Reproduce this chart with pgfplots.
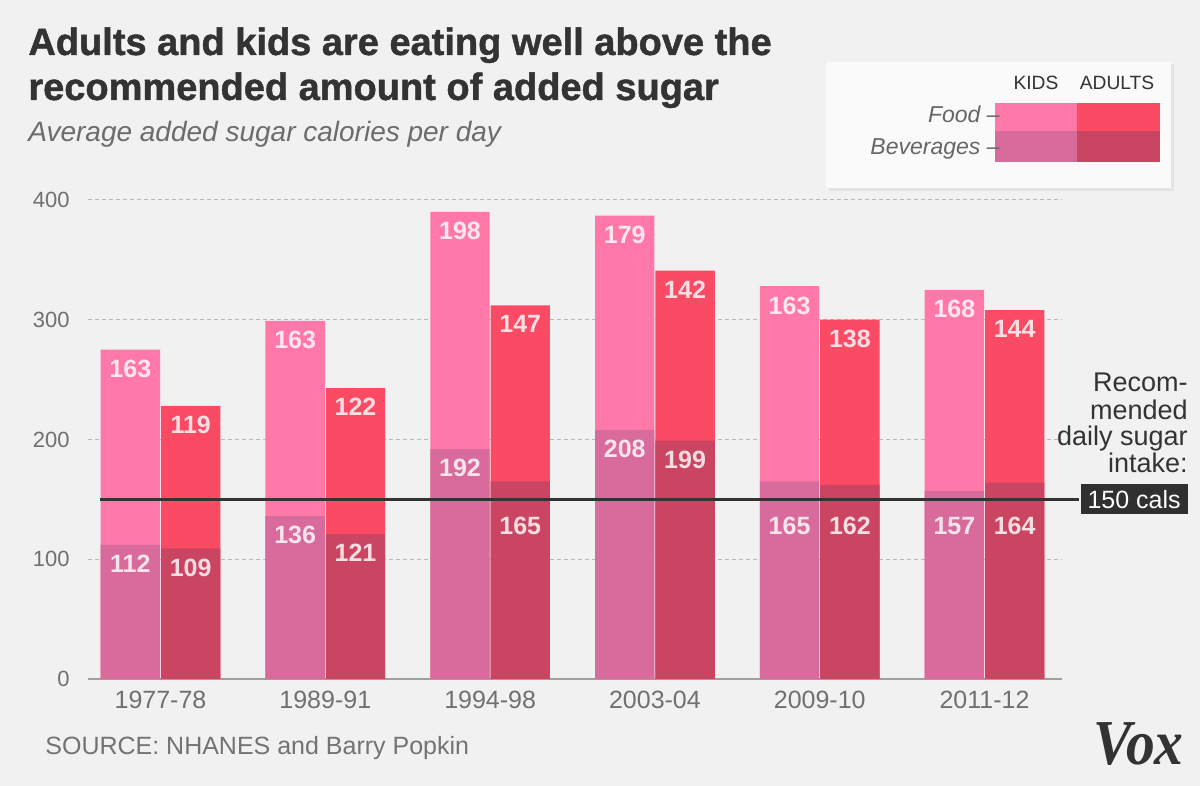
\documentclass[border=0pt]{standalone}
\usepackage{fontspec}
\setmainfont{Liberation Sans}
\newfontfamily\titlefont[FakeBold=1.2]{Liberation Sans}
\newfontfamily\voxfont[FakeStretch=0.9]{Liberation Serif}
\usepackage{pgfplots}
\usepackage{pgfplotstable}
\pgfplotsset{compat=1.18}

\definecolor{bg}{HTML}{F1F1F1}
\definecolor{kidfood}{HTML}{FF78A8}
\definecolor{adultfood}{HTML}{FB4A63}
\definecolor{kidbev}{HTML}{D86B9B}
\definecolor{adultbev}{HTML}{CA4562}
\definecolor{ink}{HTML}{333333}
\definecolor{tickgray}{HTML}{707070}

% added sugar calories per day: beverages (bev) and food, kids (k) and adults (a)
\pgfplotstableread{
x kbev kfood abev afood
0 112 163 109 119
1 136 163 121 122
2 192 198 165 147
3 208 179 199 142
4 165 163 162 138
5 157 168 164 144
}\sugar

\begin{document}
\begin{tikzpicture}
\fill[bg] (0,0) rectangle (600pt,393pt);

\begin{axis}[
  at={(44pt,53.5pt)}, anchor=south west,
  scale only axis, width=487pt, height=239.5pt,
  xmin=-0.44, xmax=5.47, ymin=0, ymax=400,
  clip=false,
  ybar, bar width=0.36, bar shift=0pt,
  point meta=explicit,
  nodes near coords,
  visualization depends on={rawy \as \rawy},
  % labels of bars ending just above the 150 line sit below that line
  every node near coord/.append style={anchor=north, inner sep=0pt,
    yshift={(\rawy>145 && \rawy<175) ? -(\rawy-135.3)*0.599 : -5},
    text=white, opacity=0.82, font=\bfseries\fontsize{12.5}{14}\selectfont},
  axis lines*=left,
  y axis line style={draw=none},
  x axis line style={draw=gray!75, line width=1pt},
  major tick length=0pt,
  ytick={0,100,200,300,400},
  xtick={0,...,5},
  xticklabels={1977-78,1989-91,1994-98,2003-04,2009-10,2011-12},
  ymajorgrids,
  grid style={gray!55, line width=0.5pt, dash pattern=on 2pt off 1.5pt},
  tick label style={text=tickgray},
  yticklabel style={font=\fontsize{11}{13}\selectfont, anchor=east, inner sep=0pt, xshift=-9pt},
  xticklabel style={font=\fontsize{12.5}{14}\selectfont, anchor=north, inner sep=0pt, yshift=-6pt},
  /pgf/number format/assume math mode=true,
]
% kids: food on top of beverages
\addplot[fill=kidfood, draw=none] table[x expr=\thisrow{x}-0.183, y expr=\thisrow{kbev}+\thisrow{kfood}, meta=kfood]{\sugar};
\addplot[fill=kidbev, draw=none] table[x expr=\thisrow{x}-0.183, y=kbev, meta=kbev]{\sugar};
% adults
\addplot[fill=adultfood, draw=none] table[x expr=\thisrow{x}+0.183, y expr=\thisrow{abev}+\thisrow{afood}, meta=afood]{\sugar};
\addplot[fill=adultbev, draw=none] table[x expr=\thisrow{x}+0.183, y=abev, meta=abev]{\sugar};
\draw[ink, line width=1.5pt] (axis cs:-0.365,150) -- (axis cs:5.574,150)
  node[anchor=west, fill=ink!95!black, text=white, inner sep=0pt, minimum width=53.5pt,
       minimum height=15pt, font=\fontsize{12.5}{14}\selectfont] {150 cals};
\end{axis}

% recommended note
\foreach \t/\yy in {Recom-/392, mended/420, daily sugar/446, intake:/473}
  \node[anchor=base east, inner sep=0pt, text=ink, font=\fontsize{13.5}{15}\selectfont]
    at (594pt,{(786-\yy)/2*1pt}) {\t};

% title
\node[anchor=base west, inner sep=0pt, text=ink, font=\titlefont\bfseries\fontsize{19}{22}\selectfont]
  at (14pt,365.5pt) {Adults and kids are eating well above the};
\node[anchor=base west, inner sep=0pt, text=ink, font=\titlefont\bfseries\fontsize{19}{22}\selectfont]
  at (14pt,343pt) {recommended amount of added sugar};
\node[anchor=base west, inner sep=0pt, text=gray!85!black, font=\itshape\fontsize{14}{16}\selectfont]
  at (14pt,322pt) {Average added sugar calories per day};

% legend
\fill[gray!22] (414.5pt,297.5pt) rectangle (587pt,361pt);
\fill[white!96!gray] (413pt,299pt) rectangle (585.5pt,362pt);
\fill[kidfood] (497.5pt,327.5pt) rectangle (538.3pt,341.5pt);
\fill[kidbev] (497.5pt,312pt) rectangle (538.3pt,327.5pt);
\fill[adultfood] (538.7pt,327.5pt) rectangle (580pt,341.5pt);
\fill[adultbev] (538.7pt,312pt) rectangle (580pt,327.5pt);
\node[anchor=base, inner sep=0pt, text=ink, font=\fontsize{9.6}{11}\selectfont] at (518pt,348pt) {KIDS};
\node[anchor=base, inner sep=0pt, text=ink, font=\fontsize{9.6}{11}\selectfont] at (558.5pt,348pt) {ADULTS};
\node[anchor=base east, inner sep=0pt, text=gray!80!black, font=\itshape\fontsize{11.5}{13}\selectfont] at (500pt,331.5pt) {Food –};
\node[anchor=base east, inner sep=0pt, text=gray!80!black, font=\itshape\fontsize{11.5}{13}\selectfont] at (500pt,315.5pt) {Beverages –};

% footer
\node[anchor=base west, inner sep=0pt, text=gray!90!black, font=\fontsize{12.5}{14}\selectfont]
  at (22.5pt,15.5pt) {SOURCE: NHANES and Barry Popkin};
\node[anchor=base east, inner sep=0pt, text=ink, font=\voxfont\bfseries\itshape\fontsize{32}{34}\selectfont]
  at (592pt,10.5pt) {Vox};

\pgfresetboundingbox
\path (0,0) rectangle (600pt,393pt);
\end{tikzpicture}
\end{document}
